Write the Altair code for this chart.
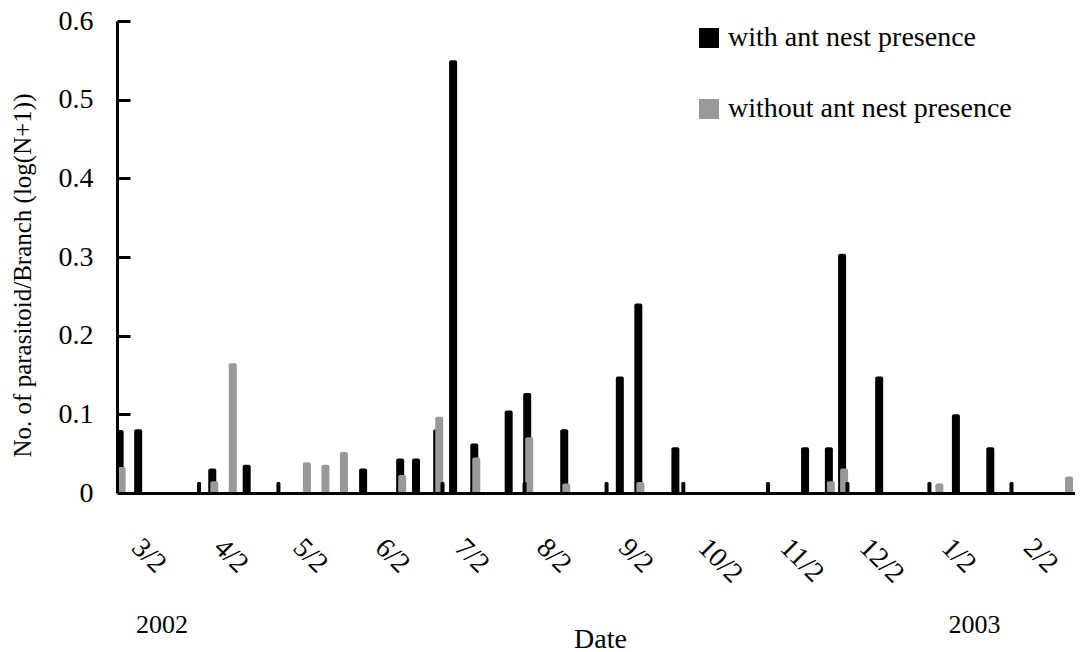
import altair as alt
import pandas as pd

BASE_DATE = pd.Timestamp("2002-03-02")

# ---- data ----
series_names = ["with ant nest presence", "without ant nest presence"]
series_colors = ["#000000", "#999999"]

black_dates = ["2002-02-24", "2002-03-03", "2002-03-31", "2002-04-13", "2002-05-27",
               "2002-06-10", "2002-06-16", "2002-06-24", "2002-06-30", "2002-07-08",
               "2002-07-21", "2002-07-28", "2002-08-11", "2002-09-01", "2002-09-08",
               "2002-09-22", "2002-11-10", "2002-11-19", "2002-11-24", "2002-12-08",
               "2003-01-06", "2003-01-19", "2003-02-23"]
black_values = [0.080, 0.081, 0.031, 0.036, 0.031,
                0.044, 0.044, 0.081, 0.550, 0.063,
                0.105, 0.127, 0.081, 0.148, 0.241,
                0.058, 0.058, 0.058, 0.304, 0.148,
                0.100, 0.058, 0.081]

gray_dates = ["2002-02-24", "2002-03-31", "2002-04-07", "2002-05-05", "2002-05-12",
              "2002-05-19", "2002-06-10", "2002-06-24", "2002-07-08", "2002-07-28",
              "2002-08-11", "2002-09-08", "2002-11-19", "2002-11-24", "2002-12-30",
              "2003-02-17"]
gray_values = [0.033, 0.015, 0.165, 0.039, 0.036,
               0.052, 0.023, 0.097, 0.045, 0.071,
               0.012, 0.014, 0.015, 0.031, 0.012,
               0.021]

zero_dates = ["2002-03-26", "2002-04-25", "2002-06-26", "2002-07-27", "2002-08-27",
              "2002-09-25", "2002-10-27", "2002-11-26", "2002-12-27", "2003-01-27"]
zero_values = [0.014, 0.014, 0.014, 0.014, 0.014,
               0.014, 0.014, 0.014, 0.014, 0.014]

tick_dates = ["2002-03-02", "2002-04-02", "2002-05-02", "2002-06-02", "2002-07-02",
              "2002-08-02", "2002-09-02", "2002-10-02", "2002-11-02", "2002-12-02",
              "2003-01-02", "2003-02-02"]
tick_labels = ["3/2", "4/2", "5/2", "6/2", "7/2", "8/2", "9/2", "10/2", "11/2",
               "12/2", "1/2", "2/2"]

year_labels = ["2002", "2003"]
year_dates = ["2002-03-12", "2003-01-13"]

y_ticks = [0.0, 0.1, 0.2, 0.3, 0.4, 0.5, 0.6]
y_tick_labels = ["0", "0.1", "0.2", "0.3", "0.4", "0.5", "0.6"]
inner_ticks = [0.1, 0.2, 0.3, 0.4, 0.5, 0.6]


def to_days(dates):
    return [int((pd.Timestamp(d) - BASE_DATE).days) for d in dates]


black_df = pd.DataFrame({"day": to_days(black_dates), "amount": black_values,
                         "series": series_names[0]})
gray_df = pd.DataFrame({"day": to_days(gray_dates), "amount": gray_values,
                        "series": series_names[1]})
zero_df = pd.DataFrame({"day": to_days(zero_dates), "amount": zero_values})
tick_days = to_days(tick_dates)
year_df = pd.DataFrame({"day": to_days(year_dates), "label": year_labels})
inner_df = pd.DataFrame({"amount": inner_ticks})

FONT = "Liberation Serif"
PLOT_W = 958
PLOT_H = 472

x_label_expr = "[" + ",".join("'%s'" % t for t in tick_labels) + "][indexof([" + \
    ",".join(str(d) for d in tick_days) + "], datum.value)]"
y_label_expr = "[" + ",".join("'%s'" % t for t in y_tick_labels) + "][indexof([" + \
    ",".join(str(v) for v in y_ticks) + "], datum.value)]"

x_enc = alt.X(
    "day:Q",
    scale=alt.Scale(domain=[-7, 355], nice=False, zero=False, padding=0),
    axis=alt.Axis(
        values=tick_days, labelExpr=x_label_expr, labelAngle=45, labelAlign="left",
        labelBaseline="middle", labelPadding=50, labelFontSize=28, labelFont=FONT,
        labelColor="black", labelOverlap=False, labelFlush=False, labelBound=False,
        ticks=False, grid=False, domainColor="black", domainWidth=3, zindex=1,
        title="Date", titleFont=FONT, titleFontSize=28, titleFontWeight="normal",
        titleColor="black", titleX=483, titleY=154, titleAlign="center",
        titleBaseline="alphabetic",
    ),
)

y_scale = alt.Scale(domain=[0, 0.6], nice=False, zero=True, padding=0)

y_enc = alt.Y(
    "amount:Q",
    stack=None,
    scale=y_scale,
    axis=alt.Axis(
        values=y_ticks, labelExpr=y_label_expr, labelFontSize=28, labelFont=FONT,
        labelColor="black", labelPadding=24, labelBaseline="middle", ticks=False,
        grid=False, domainColor="black", domainWidth=3, zindex=1, labelFlush=False,
        title="No. of parasitoid/Branch (log(N+1))", titleFont=FONT,
        titleFontSize=25, titleFontWeight="normal", titleColor="black",
        titleX=-95, titleY=254, titleAngle=270, titleAlign="center",
        titleBaseline="middle",
    ),
)

# a second axis placed on the left edge, facing right, draws the inward ticks
y_inner_enc = alt.Y(
    "amount:Q",
    scale=y_scale,
    axis=alt.Axis(
        orient="right", offset=-PLOT_W, values=inner_ticks, ticks=True,
        tickSize=13, tickWidth=3, tickColor="black", labels=False, domain=False,
        grid=False, title=None, zindex=1,
    ),
)

color_enc = alt.Color(
    "series:N",
    scale=alt.Scale(domain=series_names, range=series_colors),
    legend=alt.Legend(
        title=None, orient="none", legendX=578, legendY=3, symbolType="square",
        symbolSize=400, symbolStrokeWidth=0, labelFont=FONT, labelFontSize=28,
        labelColor="black", labelOffset=5, labelLimit=500, rowPadding=43,
        padding=0,
    ),
)

black_bars = alt.Chart(black_df).mark_bar(
    width=8, cornerRadiusTopLeft=2, cornerRadiusTopRight=2, clip=True
).encode(x=x_enc, y=y_enc, color=color_enc)

gray_bars = alt.Chart(gray_df).mark_bar(
    width=8, xOffset=2, cornerRadiusTopLeft=2, cornerRadiusTopRight=2, clip=True
).encode(x=x_enc, y=y_enc, color=color_enc)

zero_bars = alt.Chart(zero_df).mark_bar(
    width=4, cornerRadiusTopLeft=1.5, cornerRadiusTopRight=1.5, color="black",
    clip=True
).encode(x=x_enc, y=y_enc)

year_text = alt.Chart(year_df).mark_text(
    font=FONT, fontSize=26, color="black", align="center", baseline="alphabetic"
).encode(x=x_enc, y=alt.value(612), text="label:N")

main = alt.layer(black_bars, gray_bars, zero_bars, year_text)

inner_axis_layer = alt.Chart(inner_df).mark_point(opacity=0).encode(y=y_inner_enc)

chart = alt.layer(main, inner_axis_layer).resolve_scale(y="independent").properties(
    width=PLOT_W, height=PLOT_H,
    autosize=alt.AutoSizeParams(type="none"),
    padding={"left": 109, "top": 13, "right": 0, "bottom": 160},
).configure(font=FONT).configure_view(stroke=None)

chart.save("out.html", embed_options={"renderer": "svg", "actions": False})
